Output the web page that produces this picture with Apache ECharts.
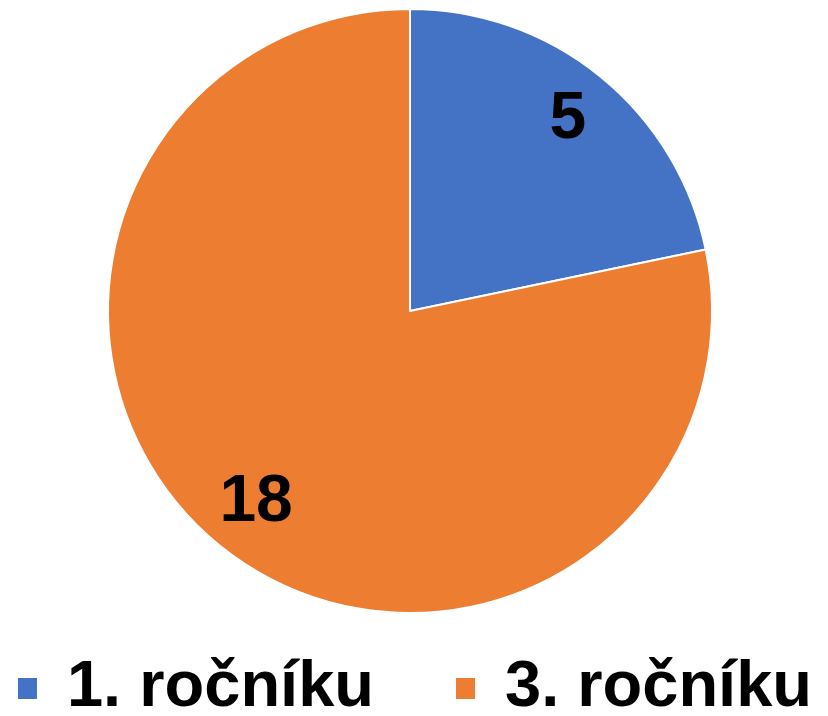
<!DOCTYPE html>
<html>
<head>
<meta charset="utf-8">
<script src="https://cdn.jsdelivr.net/npm/echarts@6/dist/echarts.min.js"></script>
<style>
  html, body { margin: 0; padding: 0; background: #fff; }
  #chart { width: 828px; height: 716px; }
</style>
</head>
<body>
<div id="chart"></div>
<script>
// data
const categories = ['1. ročníku', '3. ročníku']
const values = [5, 18]
const colors = ['#4472C4', '#ED7D31']

const pieData = categories.map((name, i) => ({
  name: name,
  value: values[i],
  itemStyle: { color: colors[i] }
}))

const chart = echarts.init(document.getElementById('chart'))
chart.setOption({
  backgroundColor: '#fff',
  animation: false,
  legend: {
    data: categories,
    left: 'center',
    top: 651,
    itemWidth: 21,
    itemHeight: 23,
    itemGap: 80,
    icon: 'rect',
    textStyle: {
      fontFamily: 'Liberation Sans, Arial, sans-serif',
      fontWeight: 'bold',
      fontSize: 65,
      color: '#000',
      padding: [0, 0, 0, 24]
    }
  },
  series: [
    // 饼图本体
    {
      type: 'pie',
      center: [410, 311],
      radius: 302,
      startAngle: 90,
      clockwise: true,
      label: { show: false },
      labelLine: { show: false },
      itemStyle: { borderColor: '#fff', borderWidth: 2 },
      data: pieData,
      silent: true
    },
    // 透明环，只用来放数值标签（靠外一点）
    {
      type: 'pie',
      center: [412, 311],
      radius: [186, 302],
      startAngle: 90,
      clockwise: true,
      silent: true,
      itemStyle: { color: 'transparent', borderWidth: 0 },
      label: {
        show: true,
        position: 'inside',
        formatter: '{c}',
        fontFamily: 'Liberation Sans, Arial, sans-serif',
        fontWeight: 'bold',
        fontSize: 66,
        color: '#000'
      },
      labelLine: { show: false },
      data: categories.map((name, i) => ({ name: name, value: values[i] }))
    }
  ]
})
</script>
</body>
</html>
